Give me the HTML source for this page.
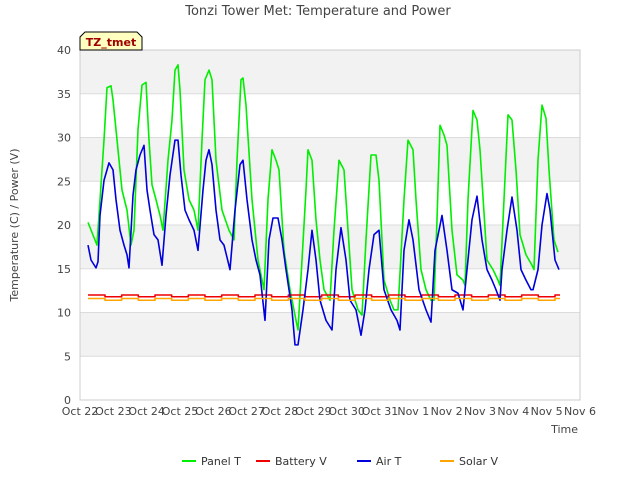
<!DOCTYPE html>
<html><head><meta charset="utf-8"><style>
body{margin:0;background:#fff;font-family:"Liberation Sans","DejaVu Sans",sans-serif;}
svg text{font-family:"DejaVu Sans","Liberation Sans",sans-serif;}
</style></head><body>
<svg id="chart" width="640" height="480" xmlns="http://www.w3.org/2000/svg">
<rect width="640" height="480" fill="#fff"/>
<g id="bands"></g><g id="grid"></g>
<rect x="80" y="50" width="500" height="350" fill="none" stroke="#ccc"/>
<g id="xticks"></g><g id="yticks"></g><g id="series"></g>
<text x="318" y="15" text-anchor="middle" font-size="13" fill="#444">Tonzi Tower Met: Temperature and Power</text>
<text x="18" y="225" text-anchor="middle" font-size="11" fill="#444" transform="rotate(-90 18 225)">Temperature (C) / Power (V)</text>
<text x="578" y="433" text-anchor="end" font-size="11" fill="#444">Time</text>
<g>
<path d="M80,50 L80,37 L85,32 L137,32 L142,37 L142,50 Z" fill="#ffffc0" stroke="#000"/>
<text x="111" y="46" text-anchor="middle" font-size="11" font-weight="bold" fill="#a00000">TZ_tmet</text>
</g>
<g id="legend"></g>
</svg>
<script>
const dayLabels=["Oct 22","Oct 23","Oct 24","Oct 25","Oct 26","Oct 27","Oct 28","Oct 29","Oct 30","Oct 31","Nov 1","Nov 2","Nov 3","Nov 4","Nov 5","Nov 6"];
const yTicks=[0,5,10,15,20,25,30,35,40];
const panelDays=[.24,.51,.72,.81,.93,.99,1.14,1.26,1.41,1.53,1.62,1.74,1.86,1.98,2.07,2.16,2.28,2.40,2.49,2.64,2.76,2.85,2.94,3.00,3.12,3.27,3.42,3.54,3.66,3.75,3.87,3.96,4.08,4.26,4.47,4.62,4.71,4.83,4.89,4.98,5.16,5.34,5.52,5.64,5.76,5.88,5.97,6.12,6.30,6.48,6.54,6.66,6.78,6.84,6.96,7.08,7.20,7.32,7.50,7.62,7.77,7.92,7.98,8.16,8.34,8.46,8.58,8.73,8.88,8.97,9.12,9.30,9.42,9.54,9.72,9.84,9.99,10.08,10.23,10.38,10.53,10.62,10.71,10.80,10.92,11.01,11.16,11.31,11.49,11.55,11.64,11.79,11.91,12.00,12.21,12.39,12.54,12.60,12.72,12.84,12.96,13.08,13.20,13.38,13.56,13.62,13.74,13.86,13.98,14.07,14.22,14.34];
const panelT=[20.3,17.7,29.7,35.7,35.9,34.3,28.6,24.0,21.7,17.7,19.4,30.9,36.0,36.3,29.7,24.6,22.9,21.1,19.4,27.4,32.0,37.7,38.3,35.4,26.3,22.9,21.7,19.4,29.7,36.6,37.7,36.6,27.4,21.7,19.4,18.3,27.4,36.6,36.8,33.7,22.9,16.0,12.6,22.9,28.6,27.4,26.3,17.1,12.6,9.1,8.0,16.0,24.0,28.6,27.4,20.6,16.0,12.6,11.4,19.4,27.4,26.3,22.9,12.6,10.3,9.7,18.3,28.0,28.0,25.1,13.7,11.4,10.3,10.3,22.9,29.7,28.6,22.9,14.9,12.6,11.4,11.4,20.6,31.4,30.3,29.1,19.4,14.3,13.7,13.1,22.9,33.1,32.0,28.6,16.0,14.9,13.7,13.1,22.9,32.6,32.0,26.3,18.9,16.6,15.4,14.9,27.4,33.7,32.2,26.3,18.3,16.9];
const airDays=[.24,.33,.48,.54,.60,.72,.87,.99,1.08,1.20,1.32,1.41,1.47,1.59,1.68,1.80,1.92,2.01,2.10,2.22,2.34,2.46,2.58,2.70,2.85,2.94,3.03,3.15,3.27,3.42,3.54,3.69,3.78,3.87,3.96,4.08,4.20,4.32,4.50,4.65,4.80,4.89,5.01,5.16,5.28,5.40,5.55,5.67,5.79,5.94,6.06,6.18,6.36,6.45,6.54,6.69,6.84,6.96,7.08,7.20,7.38,7.56,7.68,7.83,7.98,8.10,8.28,8.43,8.55,8.67,8.82,8.97,9.12,9.33,9.51,9.60,9.72,9.87,9.99,10.17,10.38,10.53,10.65,10.86,11.01,11.16,11.34,11.49,11.61,11.76,11.91,12.06,12.21,12.36,12.48,12.60,12.66,12.81,12.96,13.11,13.23,13.38,13.53,13.59,13.74,13.86,14.01,14.10,14.25,14.37];
const airT=[17.7,16.0,15.1,15.8,21.1,25.1,27.1,26.3,22.9,19.4,17.7,16.6,15.1,23.4,26.3,28.0,29.1,24.0,21.7,18.9,18.3,15.4,21.1,25.7,29.7,29.7,25.7,21.7,20.6,19.4,17.1,24.0,27.4,28.6,26.9,21.7,18.3,17.7,14.9,21.7,26.9,27.4,22.9,18.3,16.0,14.3,9.1,18.3,20.8,20.8,18.3,14.9,10.3,6.3,6.3,10.3,14.9,19.4,16.0,11.4,9.1,8.0,14.9,19.7,16.0,11.4,10.3,7.4,10.3,14.9,18.9,19.4,12.6,10.3,9.1,8.0,17.1,20.6,18.3,12.6,10.3,8.9,17.1,21.1,17.1,12.6,12.2,10.3,14.9,20.6,23.3,18.3,14.9,13.7,12.6,11.4,14.9,19.4,23.2,19.4,14.9,13.7,12.6,12.6,14.9,20.0,23.6,21.7,16.0,14.9];
const stepDays=[0.24,0.75,1.25,1.75,2.25,2.75,3.25,3.75,4.25,4.75,5.25,5.75,6.25,6.75,7.25,7.75,8.25,8.75,9.25,9.75,10.25,10.75,11.25,11.75,12.25,12.75,13.25,13.75,14.25,14.4];
const batteryV=[12.0,11.8,12.0,11.8,12.0,11.8,12.0,11.8,12.0,11.8,12.0,11.8,12.0,11.8,12.0,11.8,12.0,11.8,12.0,11.8,12.0,11.8,12.0,11.8,12.0,11.8,12.0,11.8,12.0,12.0];
const solarV=[11.6,11.4,11.6,11.4,11.6,11.4,11.6,11.4,11.6,11.4,11.6,11.4,11.6,11.4,11.6,11.4,11.6,11.4,11.6,11.4,11.6,11.4,11.6,11.4,11.6,11.4,11.6,11.4,11.6,11.6];
const NS="http://www.w3.org/2000/svg";
const X=d=>80+d*500/15, Y=v=>400-v*350/40;
function mk(tag,attrs,parent){const e=document.createElementNS(NS,tag);for(const k in attrs)e.setAttribute(k,attrs[k]);parent.appendChild(e);return e;}
const bands=document.getElementById('bands'),grid=document.getElementById('grid');
for(let i=0;i<yTicks.length-1;i++){
 const a=yTicks[i],b=yTicks[i+1];
 if(i%2===1){const r=mk('rect',{x:80,y:Y(b),width:500,height:Y(a)-Y(b),fill:'#f2f2f2'},bands);
 
 }
}
const yt=document.getElementById('yticks');
yTicks.forEach(v=>{
 const l=mk('line',{x1:80,x2:580,y1:Y(v),y2:Y(v),stroke:'#dcdcdc'},grid);
 
 
 const t=mk('text',{x:71,y:Y(v)+4,'text-anchor':'end','font-size':11,fill:'#444'},yt);
 
 
 t.textContent=v;
});
const xt=document.getElementById('xticks');
dayLabels.forEach((s,i)=>{
 const t=mk('text',{x:X(i),y:415,'text-anchor':'middle','font-size':11,fill:'#444'},xt);
 
 
 t.textContent=s;
});
const ser=document.getElementById('series');
function line(xs,ys,color,name,step){
 let d='';
 xs.forEach((x,i)=>{
  if(i===0)d='M'+X(x)+','+Y(ys[i]);
  else if(step)d+=' L'+X(x)+','+Y(ys[i-1])+' L'+X(x)+','+Y(ys[i]);
  else d+=' L'+X(x)+','+Y(ys[i]);
 });
 const p=mk('path',{d:d,fill:'none',stroke:color,'stroke-width':1.6,'stroke-linejoin':'round'},ser);
 
 
}
line(panelDays,panelT,'#00ee00','panel-t-line');
line(stepDays,batteryV,'#ee0000','battery-v-line',true);
line(airDays,airT,'#0000dd','air-t-line');
line(stepDays,solarV,'#ffa500','solar-v-line',true);
const leg=document.getElementById('legend');
[['Panel T','#00ee00',182],['Battery V','#ee0000',256],['Air T','#0000dd',357],['Solar V','#ffa500',440]].forEach(([n,c,x])=>{
 const g=mk('g',{},leg);
 
 
 mk('line',{x1:x,x2:x+14,y1:461,y2:461,stroke:c,'stroke-width':2},g);
 const t=mk('text',{x:x+19,y:465,'font-size':11,fill:'#333'},g);
 t.textContent=n;
});
</script>
</body></html>
